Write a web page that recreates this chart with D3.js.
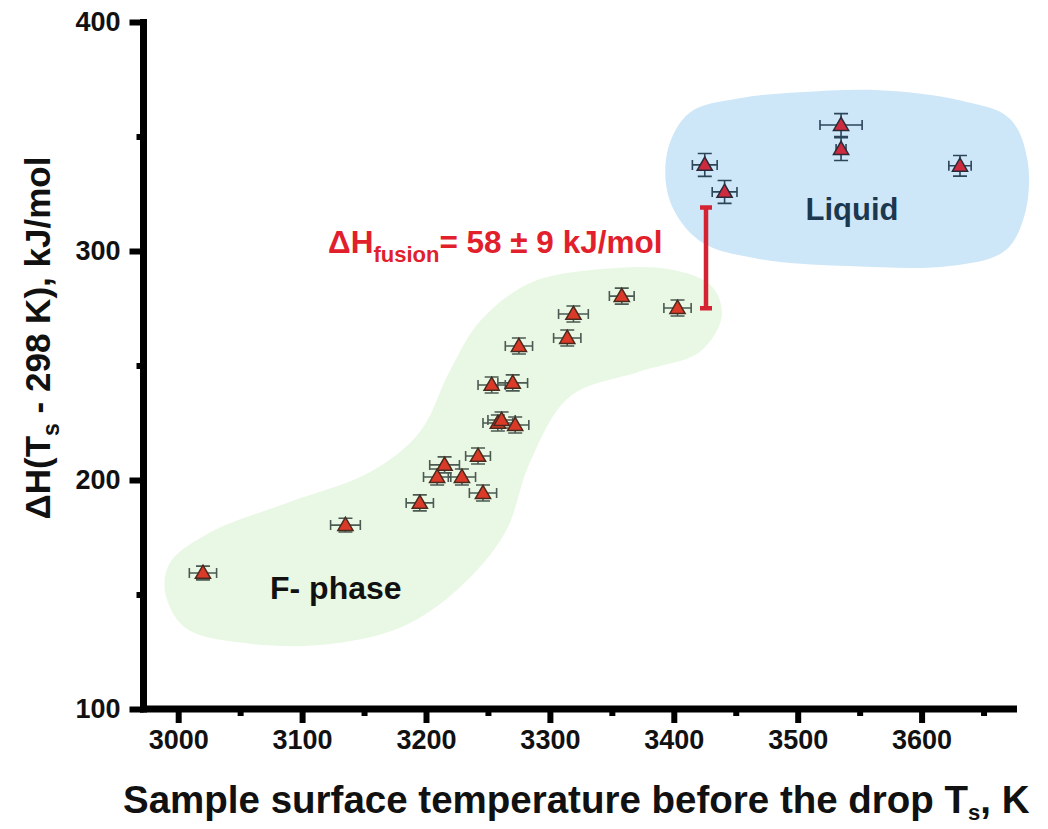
<!DOCTYPE html>
<html>
<head>
<meta charset="utf-8">
<script src="https://cdn.jsdelivr.net/npm/d3@7/dist/d3.min.js"></script>
<style>
  body { margin: 0; background: #fff; }
  svg text { font-family: "Liberation Sans", Arial, sans-serif; font-weight: bold; }
</style>
</head>
<body>
<svg id="chart" width="1048" height="829"></svg>
<script>
// measured points: surface temperature (K) and enthalpy increment (kJ/mol)
var phase      = ['F','F','F','F','F','F','F','F','F','F','F','F','F','F','F','F','F','F','L','L','L','L','L']
var tempK      = [3020, 3135, 3195, 3209, 3215, 3229, 3246, 3242, 3258, 3261, 3272, 3253, 3270, 3275, 3314, 3319, 3358, 3403, 3425, 3441, 3535, 3535, 3631]
var tempErr    = [11, 12, 11, 11, 12, 11, 11, 10, 12, 11, 11, 11, 12, 11, 11, 12, 10, 11, 10, 10, 17, 4, 9]
var enthalpy   = [159.4, 180.3, 190, 201.3, 206.6, 201.3, 194.3, 210.5, 224.9, 226.2, 224, 241.5, 242.4, 258.5, 262, 272.5, 280.3, 275.1, 337.6, 325.8, 355, 344.5, 337.2]
var enthErr    = [3, 3, 3.5, 3.5, 3.5, 3.5, 3.5, 3.5, 3.5, 3.5, 3.5, 3.5, 3.5, 3.5, 3.5, 3.5, 3.5, 3.5, 5, 5, 5, 5, 4.5]

var xTicks = [3000, 3100, 3200, 3300, 3400, 3500, 3600]
var xMinor = [3050, 3150, 3250, 3350, 3450, 3550, 3650]
var yTicks = [100, 200, 300, 400]
var yMinor = [150, 250, 350]

// hand-drawn phase regions (data units)
var fPhaseBlob = [[2989.5,150.9],[3005.6,135.5],[3050,129],[3114.5,128],[3179,135.5],[3227,153],[3264,177.2],[3284,207.9],[3316,236.4],[3372.6,247.4],[3421,256],[3438.7,271.5],[3430.6,284.6],[3396.8,292],[3340,292],[3284,286],[3243.5,269.3],[3219,247.4],[3195,221],[3155,203.5],[3090,190.4],[3026,177.2],[2993.5,164]]
var liquidBlob = [[3395,343.9],[3413,360.5],[3453,366.7],[3501.6,369.3],[3566,370.2],[3630.6,365.8],[3671,357.9],[3685.5,339.5],[3683,315.4],[3667,300],[3622.6,293.4],[3542,293.4],[3469,296.5],[3421,304.4],[3396.8,321.9]]

// fusion gap marker
var fusionT = 3426
var fusionRange = [275, 319]

var svg = d3.select('#chart')
var x = d3.scaleLinear().domain([2972, 3677]).range([143.5, 1017])
var y = d3.scaleLinear().domain([100, 400]).range([709, 22])

// regions
var blobLine = d3.line()
    .x(function (d) { return x(d[0]) })
    .y(function (d) { return y(d[1]) })
    .curve(d3.curveCatmullRomClosed)

svg.append('path').attr('d', blobLine(fPhaseBlob)).attr('fill', '#e9f8e4')
svg.append('path').attr('d', blobLine(liquidBlob)).attr('fill', '#cee7f8')

// axes
var xAxis = svg.append('g')
    .attr('transform', 'translate(0,709)')
    .call(d3.axisBottom(x).tickValues(xTicks).tickSize(14).tickSizeOuter(0).tickPadding(7).tickFormat(d3.format('d')))
var xAxisMinor = svg.append('g')
    .attr('transform', 'translate(0,709)')
    .call(d3.axisBottom(x).tickValues(xMinor).tickSize(7).tickSizeOuter(0).tickFormat(''))
var yAxis = svg.append('g')
    .attr('transform', 'translate(143.5,0)')
    .call(d3.axisLeft(y).tickValues(yTicks).tickSize(14).tickSizeOuter(0).tickPadding(9).tickFormat(d3.format('d')))
var yAxisMinor = svg.append('g')
    .attr('transform', 'translate(143.5,0)')
    .call(d3.axisLeft(y).tickValues(yMinor).tickSize(7).tickSizeOuter(0).tickFormat(''))

xAxisMinor.select('.domain').remove()
yAxisMinor.select('.domain').remove()
svg.selectAll('.domain').attr('stroke', '#000').attr('stroke-width', 7)
svg.selectAll('.tick line').attr('stroke', '#000').attr('stroke-width', 6)
svg.selectAll('.tick text').attr('font-size', 27).attr('fill', '#111')
    .style('font-family', '"Liberation Sans", Arial, sans-serif').style('font-weight', 'bold')
// extend axis lines so the corner is closed
xAxis.select('.domain').attr('d', 'M' + (140) + ',0H' + x(3677))
yAxis.select('.domain').attr('d', 'M0,' + (y(400) - 3) + 'V' + 712.5)

// axis titles
var xt = svg.append('text').attr('x', 123).attr('y', 813).attr('font-size', 38.5).attr('fill', '#111')
xt.append('tspan').text('Sample surface temperature before the drop T')
xt.append('tspan').attr('font-size', 22).attr('dy', 7).text('s')
xt.append('tspan').attr('dy', -7).text(', K')

var yt = svg.append('text').attr('transform', 'translate(50,338) rotate(-90)')
    .attr('text-anchor', 'middle').attr('font-size', 35).attr('fill', '#111')
yt.append('tspan').text('\u0394H(T')
yt.append('tspan').attr('font-size', 23).attr('dy', 9).text('s')
yt.append('tspan').attr('dy', -9).text(' - 298 K), kJ/mol')

// points
var pts = d3.range(tempK.length).map(function (i) {
    return { t: tempK[i], te: tempErr[i], h: enthalpy[i], he: enthErr[i], p: phase[i] }
})

var eb = svg.append('g').attr('fill', 'none').attr('stroke-width', 1.6)
pts.forEach(function (d) {
    var c = d.p === 'L' ? '#2c4558' : '#4b5a52'
    var cx = x(d.t), cy = y(d.h)
    var x0 = x(d.t - d.te), x1 = x(d.t + d.te)
    var y0 = y(d.h - d.he), y1 = y(d.h + d.he)
    eb.append('path').attr('stroke', c)
        .attr('d', 'M' + x0 + ',' + cy + 'H' + x1 +
            'M' + x0 + ',' + (cy - 5) + 'V' + (cy + 5) +
            'M' + x1 + ',' + (cy - 5) + 'V' + (cy + 5) +
            'M' + cx + ',' + y0 + 'V' + y1 +
            'M' + (cx - 7) + ',' + y0 + 'H' + (cx + 7) +
            'M' + (cx - 7) + ',' + y1 + 'H' + (cx + 7))
})

svg.append('g').selectAll('path.pt')
    .data(pts)
    .enter()
    .append('path')
    .attr('class', 'pt')
    .attr('d', d3.symbol().type(d3.symbolTriangle).size(100))
    .attr('transform', function (d) { return 'translate(' + x(d.t) + ',' + (y(d.h) + 1) + ')' })
    .attr('fill', function (d) { return d.p === 'L' ? '#cf2b3e' : '#dc3a28' })
    .attr('stroke', function (d) { return d.p === 'L' ? '#2a2a3a' : '#4a2a1e' })
    .attr('stroke-width', 1.5)

// fusion enthalpy gap
var fx = x(fusionT)
svg.append('path')
    .attr('d', 'M' + fx + ',' + y(fusionRange[0]) + 'V' + y(fusionRange[1]) +
        'M' + (fx - 6) + ',' + y(fusionRange[0]) + 'H' + (fx + 6) +
        'M' + (fx - 6) + ',' + y(fusionRange[1]) + 'H' + (fx + 6))
    .attr('stroke', '#d42333').attr('stroke-width', 4.5).attr('fill', 'none')

var ft = svg.append('text').attr('x', 328).attr('y', 253).attr('font-size', 31.5).attr('fill', '#e1202b')
ft.append('tspan').text('\u0394H')
ft.append('tspan').attr('font-size', 22).attr('dy', 9).text('fusion')
ft.append('tspan').attr('dy', -9).text('= 58 \u00b1 9 kJ/mol')

// region labels
svg.append('text').attr('x', 852).attr('y', 220).attr('text-anchor', 'middle')
    .attr('font-size', 31).attr('fill', '#1c3850').text('Liquid')
svg.append('text').attr('x', 270).attr('y', 599)
    .attr('font-size', 32).attr('fill', '#111').text('F- phase')
</script>
</body>
</html>
